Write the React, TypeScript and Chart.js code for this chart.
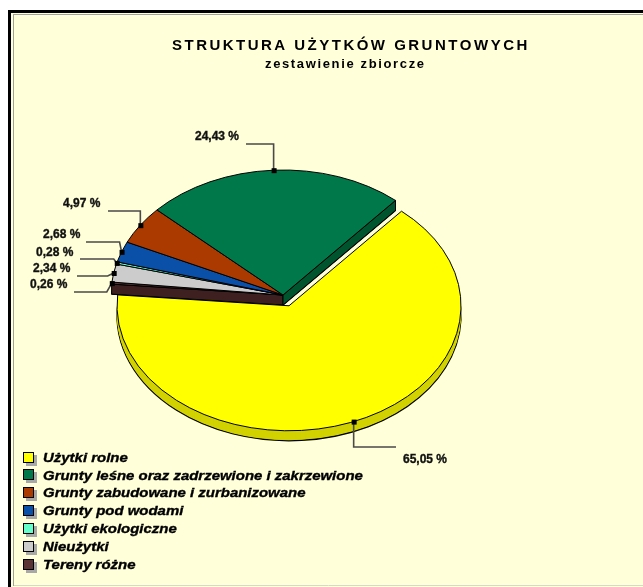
import React, { useEffect, useRef } from 'react';
import { Chart, registerables } from 'chart.js';

Chart.register(...registerables);

const TITLE = 'STRUKTURA UŻYTKÓW GRUNTOWYCH';
const SUBTITLE = 'zestawienie zbiorcze';

// legend order
const categories = [
  'Użytki rolne',
  'Grunty leśne oraz zadrzewione i zakrzewione',
  'Grunty zabudowane i zurbanizowane',
  'Grunty pod wodami',
  'Użytki ekologiczne',
  'Nieużytki',
  'Tereny różne',
];
const shares = [65.05, 24.43, 4.97, 2.68, 0.28, 2.34, 0.26];
const colors = ['#FFFF00', '#00784A', '#AA3A00', '#0A50A8', '#66FFCC', '#CCCCCC', '#5A3434'];
const sideColors = ['#D2D200', '#00552F', '#782800', '#053A7C', '#3FC898', '#999999', '#3E2020'];
const explode = [16, 0, 0, 0, 0, 0, 0];

// layout of data labels (legend order): text left x, text centre y, leader y, leader start x, elbow shift
const labelTextX = [403, 195, 63, 43, 36, 33, 30];
const labelTextY = [458, 135, 202, 233, 251, 267, 283];
const leaderY = [447, 144, 211, 242, 259, 276, 292];
const leaderStartX = [396, 246, 108, 86, 80, 77, 74];
const elbowShift = [0, 0, 0, -2, -3, -6, -5];

const ELLIPSE = 125 / 172;
const DEPTH = 10;
const FONT = '"Liberation Sans", Arial, Helvetica, sans-serif';
const BG = '#FFFFD9';

function fmt(v: number) {
  return v.toFixed(2).replace('.', ',') + ' %';
}

export default function App() {
  const ref = useRef<HTMLCanvasElement>(null);

  useEffect(() => {
    document.body.style.margin = '0';
    const canvas = ref.current!;
    const n = categories.length;
    const order = categories.map((_, i) => n - 1 - i); // chart index -> legend index

    const geom = (el: any) =>
      el.getProps(['x', 'y', 'startAngle', 'endAngle', 'outerRadius'], true);

    const slicePath = (ctx: CanvasRenderingContext2D, el: any, off: number, dy: number) => {
      const { x, y, startAngle, endAngle, outerRadius } = geom(el);
      const mid = (startAngle + endAngle) / 2;
      const ox = Math.cos(mid) * off;
      const oy = Math.sin(mid) * off;
      ctx.save();
      ctx.translate(0, dy);
      ctx.translate(x, y);
      ctx.scale(1, ELLIPSE);
      ctx.translate(-x, -y);
      ctx.beginPath();
      ctx.moveTo(x + ox, y + oy);
      ctx.arc(x + ox, y + oy, outerRadius, startAngle, endAngle);
      ctx.closePath();
      ctx.restore();
    };

    const cutFace = (ctx: CanvasRenderingContext2D, el: any, angle: number, color: string) => {
      const { x, y, outerRadius } = geom(el);
      const px = x + Math.cos(angle) * outerRadius;
      const py = y + Math.sin(angle) * outerRadius * ELLIPSE;
      ctx.beginPath();
      ctx.moveTo(x, y);
      ctx.lineTo(px, py);
      ctx.lineTo(px, py + DEPTH);
      ctx.lineTo(x, y + DEPTH);
      ctx.closePath();
      ctx.fillStyle = color;
      ctx.fill();
      ctx.strokeStyle = '#000';
      ctx.lineWidth = 1;
      ctx.stroke();
    };

    const spaced = (ctx: CanvasRenderingContext2D, text: string, left: number, width: number, baseline: number) => {
      (ctx as any).letterSpacing = '0px';
      const w0 = ctx.measureText(text).width;
      const sp = (width - w0) / (text.length - 1);
      let x = left;
      for (const ch of text) {
        ctx.fillText(ch, x, baseline);
        x += ctx.measureText(ch).width + sp;
      }
    };

    const boldText = (ctx: CanvasRenderingContext2D, text: string, x: number, y: number, sx: number, sy: number) => {
      ctx.save();
      ctx.translate(x, y);
      ctx.scale(sx, sy);
      ctx.fillText(text, 0, 0);
      ctx.lineWidth = 0.35;
      ctx.strokeStyle = ctx.fillStyle as string;
      ctx.strokeText(text, 0, 0);
      ctx.restore();
    };

    const plugin = {
      id: 'pie3d',
      beforeDraw(chart: any) {
        const ctx: CanvasRenderingContext2D = chart.ctx;
        const W = chart.width;
        const H = chart.height;
        ctx.save();
        ctx.fillStyle = '#FFFFFF';
        ctx.fillRect(0, 0, W, H);
        ctx.fillStyle = BG;
        ctx.fillRect(8, 10, W - 8, H - 10);
        ctx.fillStyle = '#000';
        ctx.fillRect(8, 10, W - 8, 3);
        ctx.fillRect(8, 10, 3, H - 10);
        ctx.strokeStyle = '#A0A0A0';
        ctx.lineWidth = 1;
        ctx.beginPath();
        ctx.moveTo(13.5, 14);
        ctx.lineTo(13.5, 586);
        ctx.moveTo(13, 14.5);
        ctx.lineTo(W, 14.5);
        ctx.stroke();
        ctx.strokeStyle = '#D8D8C8';
        ctx.beginPath();
        ctx.moveTo(14, 585.5);
        ctx.lineTo(W, 585.5);
        ctx.stroke();

        ctx.fillStyle = '#000';
        ctx.textAlign = 'left';
        ctx.textBaseline = 'alphabetic';
        ctx.font = `bold 15px ${FONT}`;
        spaced(ctx, TITLE, 172, 355, 50);
        ctx.font = `bold 13px ${FONT}`;
        spaced(ctx, SUBTITLE, 265, 159, 68);
        ctx.restore();
      },
      beforeDatasetsDraw(chart: any) {
        const ctx: CanvasRenderingContext2D = chart.ctx;
        const meta = chart.getDatasetMeta(0);
        const els = meta.data;
        ctx.save();
        ctx.lineJoin = 'round';
        for (let d = DEPTH; d >= 1; d--) {
          els.forEach((el: any, j: number) => {
            const li = order[j];
            slicePath(ctx, el, explode[li], d);
            ctx.fillStyle = sideColors[li];
            ctx.fill();
            if (d === DEPTH) {
              ctx.strokeStyle = '#000';
              ctx.lineWidth = 1.2;
              ctx.stroke();
            }
          });
        }
        // faces of the cut next to an exploded slice
        els.forEach((el: any, j: number) => {
          const li = order[j];
          if (explode[li] > 0) return;
          const prev = order[(j - 1 + n) % n];
          const next = order[(j + 1) % n];
          const { startAngle, endAngle } = geom(el);
          if (explode[prev] > 0) cutFace(ctx, el, startAngle, sideColors[li]);
          if (explode[next] > 0) cutFace(ctx, el, endAngle, sideColors[li]);
        });
        els.forEach((el: any, j: number) => {
          const li = order[j];
          slicePath(ctx, el, explode[li], 0);
          ctx.fillStyle = colors[li];
          ctx.fill();
          ctx.strokeStyle = '#000';
          ctx.lineWidth = 1;
          ctx.stroke();
        });
        ctx.restore();
        return false;
      },
      afterDraw(chart: any) {
        const ctx: CanvasRenderingContext2D = chart.ctx;
        const meta = chart.getDatasetMeta(0);
        ctx.save();
        // data labels
        meta.data.forEach((el: any, j: number) => {
          const li = order[j];
          const { x, y, startAngle, endAngle, outerRadius } = geom(el);
          const mid = (startAngle + endAngle) / 2;
          const r = outerRadius + explode[li];
          const ax = x + Math.cos(mid) * r;
          const ay = y + Math.sin(mid) * r * ELLIPSE;
          const ex = ax + elbowShift[li];
          ctx.strokeStyle = '#4A4A4A';
          ctx.lineWidth = 1.6;
          ctx.beginPath();
          ctx.moveTo(leaderStartX[li], leaderY[li]);
          ctx.lineTo(ex, leaderY[li]);
          ctx.lineTo(ax, ay);
          ctx.stroke();
          ctx.fillStyle = '#000';
          ctx.fillRect(ax - 2, ay - 2, 5, 5);
          ctx.font = `bold 12px ${FONT}`;
          ctx.textAlign = 'left';
          ctx.textBaseline = 'alphabetic';
          ctx.fillStyle = '#111111';
          boldText(ctx, fmt(chart.data.datasets[0].data[j]), labelTextX[li], labelTextY[li] + 4.5, 1.0, 1.08);
        });
        // legend
        categories.forEach((name, i) => {
          const cy = 457 + i * 17.85;
          const top = Math.round(cy - 5.5);
          ctx.fillStyle = '#A8A8A8';
          ctx.fillRect(26, top + 3, 11, 11);
          ctx.fillStyle = colors[i];
          ctx.fillRect(23, top, 11, 11);
          ctx.strokeStyle = '#000';
          ctx.lineWidth = 1;
          ctx.strokeRect(23.5, top + 0.5, 10, 10);
          ctx.fillStyle = '#000000';
          ctx.font = `italic bold 13px ${FONT}`;
          ctx.textAlign = 'left';
          ctx.textBaseline = 'alphabetic';
          boldText(ctx, name, 43, cy + 4.7, 1.15, 1.05);
        });
        ctx.restore();
      },
    };

    const chart = new Chart(canvas, {
      type: 'pie',
      data: {
        labels: order.map((i) => categories[i]),
        datasets: [
          {
            data: order.map((i) => shares[i]),
            backgroundColor: order.map((i) => colors[i]),
            offset: order.map((i) => explode[i]),
            borderColor: '#000',
            borderWidth: 1,
          },
        ],
      },
      options: {
        responsive: false,
        animation: false,
        events: [],
        rotation: 275,
        radius: 172,
        layout: { padding: { left: 0, right: 77, top: 3, bottom: 0 } },
        plugins: {
          legend: { display: false },
          title: { display: false },
          tooltip: { enabled: false },
        },
      } as any,
      plugins: [plugin as any],
    });
    return () => chart.destroy();
  }, []);

  return <canvas ref={ref} width={643} height={587} style={{ display: 'block' }} />;
}
